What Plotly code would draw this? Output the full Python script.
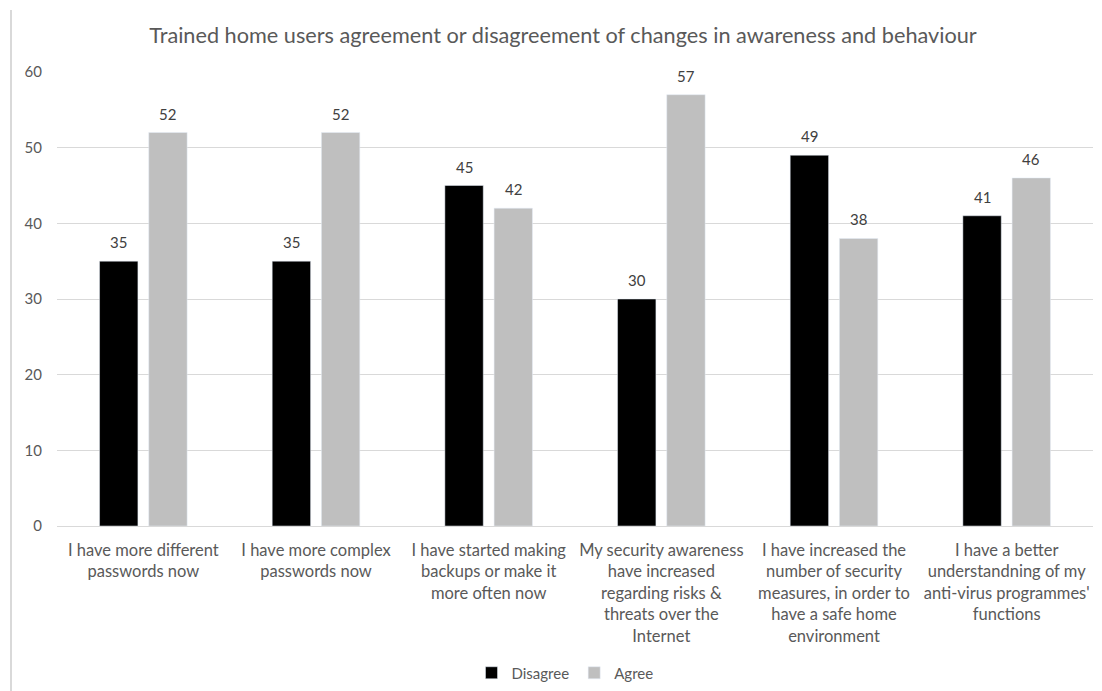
import plotly.graph_objects as go

categories = [
    "I have more different<br>passwords now",
    "I have more complex<br>passwords now",
    "I have started making<br>backups or make it<br>more often now",
    "My security awareness<br>have increased<br>regarding risks &<br>threats over the<br>Internet",
    "I have increased the<br>number of security<br>measures, in order to<br>have a safe home<br>environment",
    "I have a better<br>understandning of my<br>anti-virus programmes'<br>functions",
]
disagree = [35, 35, 45, 30, 49, 41]
agree = [52, 52, 42, 57, 38, 46]
y_ticks = [0, 10, 20, 30, 40, 50, 60]

FONT = "Lato"
TXT = "#595959"
LBL = "#404040"

# page body offset (8px) compensated in figure coordinates
W, H = 1102, 691
L, R, T, B = 49, 17, 64, 173
PW = W - L - R
PH = H - T - B
BARGAP, GROUPGAP = 0.43, 0.22
slot = PW / len(categories) * (1 - BARGAP) / 2

fig = go.Figure()
fig.add_trace(go.Bar(name="Disagree", x=categories, y=disagree, marker_color="#000000"))
fig.add_trace(go.Bar(name="Agree", x=categories, y=agree, marker_color="#bfbfbf"))

annotations = []
for series, shift in ((disagree, -slot / 2), (agree, slot / 2)):
    for cat, val in zip(categories, series):
        annotations.append(dict(x=cat, y=val, xref="x", yref="y", text=str(val), showarrow=False,
                                xshift=shift, yshift=19, yanchor="middle",
                                font=dict(family=FONT, size=15, color=LBL)))

fig.update_layout(
    width=W, height=H,
    paper_bgcolor="white", plot_bgcolor="white",
    margin=dict(l=L, r=R, t=T, b=B),
    barmode="group", bargap=BARGAP, bargroupgap=GROUPGAP,
    font=dict(family=FONT, color=TXT, size=15),
    title=dict(text="Trained home users agreement or disagreement of changes in awareness and behaviour",
               x=(563 - 8) / W, xanchor="center", y=1 - 27 / H, yanchor="middle",
               font=dict(family=FONT, size=21.7, color=TXT)),
    legend=dict(orientation="h", x=557 / W, xanchor="center", xref="container",
                y=1 - 665 / H, yanchor="middle", yref="container",
                font=dict(family=FONT, size=15, color=TXT), traceorder="normal"),
    xaxis=dict(showline=True, linecolor="#d9d9d9", linewidth=1, ticks="", automargin=False,
               ticklabelstandoff=9,
               tickfont=dict(family=FONT, size=16.5, color=TXT), tickangle=0),
    yaxis=dict(range=[0, 60], tickvals=y_ticks, showgrid=True, gridcolor="#d9d9d9", gridwidth=1,
               zeroline=False, ticks="", ticklabelstandoff=14, automargin=False,
               tickfont=dict(family=FONT, size=15, color=TXT)),
    annotations=annotations,
    shapes=[dict(type="line", xref="paper", yref="paper", x0=(3 - L) / PW, x1=(3 - L) / PW,
                 y0=-B / PH, y1=(PH + T - 2) / PH, line=dict(color="#d9d9d9", width=2))],
)
fig.write_html("out.html")
